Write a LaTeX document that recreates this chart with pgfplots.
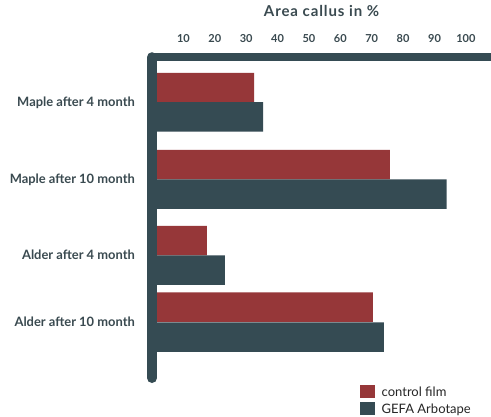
\documentclass[border=0pt]{standalone}
\usepackage{pgfplots}
\pgfplotsset{compat=1.18}
\usepackage{fontspec}
\setmainfont{Lato}
\definecolor{ctrl}{HTML}{963739}
\definecolor{gefa}{HTML}{354B53}
\definecolor{txt}{HTML}{3A4A50}
\pgfplotsset{sqlegend/.style={legend image code/.code={\fill[##1] (0bp,-6.5bp) rectangle (15bp,6.5bp);}}}
\begin{document}
\begin{tikzpicture}
\useasboundingbox[fill=white] (0,0) rectangle (491bp,-417bp);
\begin{axis}[
  at={(152bp,-53bp)}, anchor=north west,
  width=339bp, height=330bp, scale only axis,
  xmin=0, xmax=108, ymin=53, ymax=383, y dir=reverse,
  clip=false,
  xbar, bar width=29.5, bar shift=0pt,
  axis line style={draw=none},
  major tick length=0pt,
  xtick={10,20,...,100},
  xtick pos=upper, xticklabel pos=upper,
  ytick={102,179,255,322},
  yticklabels={Maple after 4 month, Maple after 10 month, Alder after 4 month, Alder after 10 month},
  ytick pos=left,
  /pgf/number format/assume math mode=true,
  xticklabel style={anchor=base, inner sep=0pt, yshift=10.7bp, font=\bfseries\fontsize{11bp}{12bp}\selectfont, text=txt},
  yticklabel style={anchor=base east, inner sep=0pt, xshift=-17bp, yshift=-4.8bp, font=\bfseries\fontsize{12.9bp}{14bp}\selectfont, text=txt},
  title={\addfontfeatures{LetterSpace=6}Area callus in \%},
  title style={at={(0.5,1)}, anchor=base, inner sep=0pt, yshift=30.7bp, font=\bfseries\fontsize{15bp}{16bp}\selectfont, text=txt},
  legend style={at={(0.6136,-0.0061)}, anchor=north west, draw=none, fill=none, inner sep=0pt, outer sep=0pt,
    row sep=4bp, legend cell align=left,
    nodes={inner sep=0pt, text height=11.3bp, text depth=1.7bp, font=\fontsize{13bp}{15bp}\selectfont, text=black!85},
    /tikz/every odd column/.append style={column sep=6.7bp}},
]
\addplot[fill=ctrl, draw=none, sqlegend]
  coordinates {(32.5,87.5) (75.8,164.5) (17.5,240.5) (70.4,307)};
\addplot[fill=gefa, draw=none, sqlegend]
  coordinates {(35.4,116.8) (93.9,194) (23.2,270) (73.9,337)};
\legend{control film, GEFA Arbotape}
\draw[gefa, line width=8bp] (axis cs:0,57.2) -- (axis cs:115,57.2);
\draw[gefa, line width=10bp, line cap=round] (axis cs:0,57.2) -- (axis cs:0,378);
\end{axis}
\end{tikzpicture}
\end{document}
